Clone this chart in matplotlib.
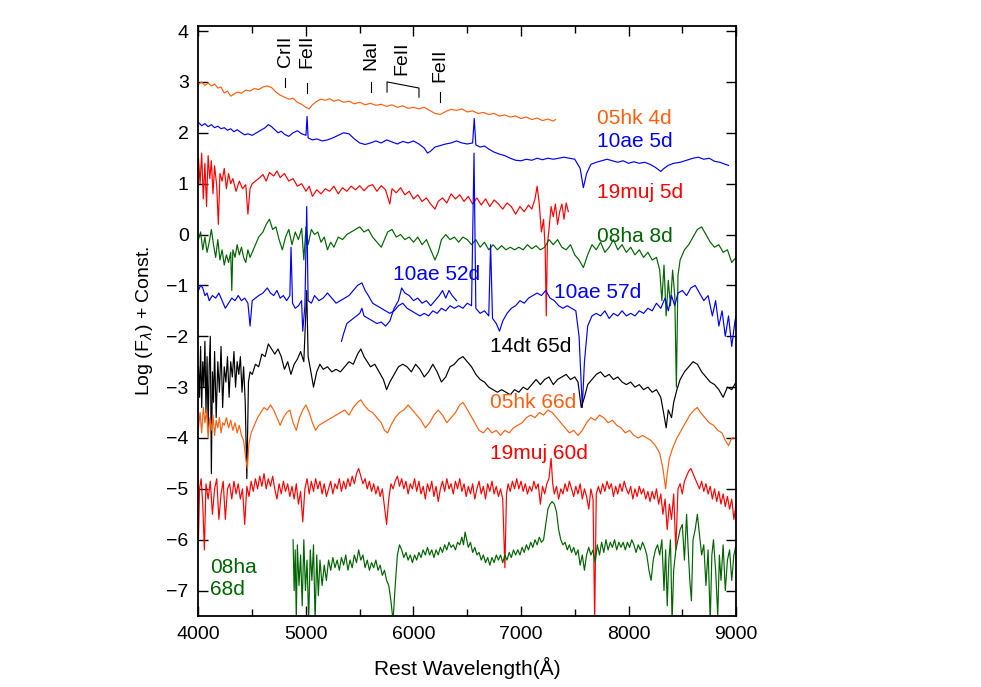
import numpy as np
import matplotlib
matplotlib.use('Agg')
import matplotlib.pyplot as plt

plt.rcParams['font.family'] = ['Liberation Sans', 'DejaVu Sans']
plt.rcParams['mathtext.fontset'] = 'custom'
plt.rcParams['mathtext.rm'] = 'Liberation Sans'

# Spectra: (rest wavelength [A], log flux + const)
sp_05hk_4d = np.array([
    (4000, 2.95), (4030, 3.0), (4060, 2.93), (4090, 2.98), (4120, 2.92), (4150, 2.96), (4180, 2.88),
    (4210, 2.9), (4240, 2.78), (4270, 2.82), (4300, 2.72), (4330, 2.76), (4360, 2.8), (4400, 2.78),
    (4440, 2.84), (4480, 2.82), (4520, 2.87), (4560, 2.85), (4600, 2.9), (4640, 2.92), (4680, 2.89),
    (4720, 2.8), (4760, 2.74), (4800, 2.7), (4840, 2.66), (4880, 2.68), (4920, 2.6), (4960, 2.56),
    (5000, 2.5), (5030, 2.47), (5060, 2.55), (5100, 2.62), (5140, 2.66), (5180, 2.64), (5220, 2.67),
    (5260, 2.62), (5300, 2.65), (5350, 2.6), (5400, 2.62), (5450, 2.57), (5500, 2.6), (5550, 2.55),
    (5600, 2.58), (5650, 2.54), (5700, 2.56), (5750, 2.52), (5800, 2.55), (5850, 2.5), (5900, 2.53),
    (5950, 2.48), (6000, 2.5), (6050, 2.47), (6100, 2.5), (6150, 2.44), (6200, 2.38), (6250, 2.36),
    (6300, 2.42), (6350, 2.46), (6400, 2.44), (6450, 2.47), (6500, 2.41), (6550, 2.43), (6600, 2.38),
    (6650, 2.4), (6700, 2.36), (6750, 2.38), (6800, 2.33), (6850, 2.35), (6900, 2.31), (6950, 2.33),
    (7000, 2.28), (7050, 2.31), (7100, 2.26), (7150, 2.29), (7200, 2.24), (7250, 2.27), (7300, 2.23),
    (7320, 2.26)])

sp_10ae_5d = np.array([
    (4000, 2.2), (4030, 2.14), (4060, 2.18), (4090, 2.12), (4120, 2.16), (4150, 2.1), (4180, 2.13),
    (4210, 2.08), (4240, 2.1), (4270, 2.05), (4300, 2.08), (4330, 2.02), (4360, 2.06), (4400, 2.0),
    (4430, 1.96), (4460, 1.98), (4500, 1.95), (4540, 2.0), (4580, 2.05), (4620, 2.1), (4650, 2.16),
    (4680, 2.12), (4710, 2.06), (4740, 2.0), (4770, 2.03), (4800, 1.97), (4840, 1.93), (4880, 2.0),
    (4920, 2.04), (4960, 1.98), (5000, 1.95), (5010, 2.32), (5020, 1.9), (5060, 1.86), (5100, 1.88),
    (5150, 1.84), (5200, 1.86), (5250, 1.9), (5300, 1.95), (5350, 2.0), (5400, 1.98), (5450, 1.88),
    (5500, 1.8), (5550, 1.77), (5600, 1.8), (5650, 1.84), (5700, 1.8), (5750, 1.86), (5800, 1.82),
    (5850, 1.78), (5900, 1.83), (5950, 1.8), (6000, 1.84), (6050, 1.78), (6100, 1.7), (6130, 1.6),
    (6160, 1.64), (6200, 1.72), (6250, 1.75), (6300, 1.78), (6350, 1.8), (6400, 1.84), (6450, 1.8),
    (6500, 1.78), (6550, 1.8), (6565, 2.28), (6580, 1.76), (6620, 1.72), (6660, 1.74), (6700, 1.68),
    (6750, 1.62), (6800, 1.58), (6850, 1.55), (6900, 1.5), (6950, 1.46), (7000, 1.45), (7050, 1.48),
    (7100, 1.46), (7150, 1.5), (7200, 1.47), (7250, 1.5), (7300, 1.48), (7350, 1.5), (7400, 1.52),
    (7450, 1.5), (7500, 1.48), (7550, 1.3), (7580, 0.92), (7610, 1.2), (7650, 1.38), (7700, 1.42),
    (7750, 1.45), (7800, 1.48), (7850, 1.45), (7900, 1.42), (7950, 1.45), (8000, 1.4), (8050, 1.43),
    (8100, 1.4), (8150, 1.42), (8200, 1.38), (8250, 1.32), (8300, 1.24), (8330, 1.3), (8370, 1.36),
    (8420, 1.4), (8480, 1.42), (8540, 1.46), (8600, 1.5), (8650, 1.52), (8700, 1.48), (8750, 1.5),
    (8800, 1.44), (8850, 1.42), (8900, 1.38), (8930, 1.36)])

sp_19muj_5d = np.array([
    (4000, 1.5), (4015, 1.0), (4030, 1.6), (4045, 0.7), (4060, 1.4), (4075, 0.55), (4090, 1.55),
    (4105, 1.1), (4120, 1.45), (4135, 0.8), (4150, 1.35), (4170, 0.95), (4185, 0.2), (4200, 1.2),
    (4220, 1.05), (4240, 1.3), (4260, 0.9), (4280, 1.2), (4300, 1.0), (4320, 1.1), (4350, 0.85),
    (4380, 1.05), (4410, 0.9), (4440, 0.98), (4460, 0.4), (4480, 0.9), (4500, 1.0), (4530, 1.05),
    (4560, 1.1), (4600, 1.18), (4630, 1.05), (4660, 1.22), (4700, 1.15), (4730, 1.25), (4760, 1.12),
    (4800, 1.2), (4840, 1.05), (4880, 1.1), (4920, 0.95), (4960, 1.0), (5000, 0.85), (5030, 0.95),
    (5060, 0.75), (5100, 0.88), (5140, 0.8), (5180, 0.9), (5220, 0.85), (5260, 0.95), (5300, 0.8),
    (5340, 0.92), (5380, 0.85), (5420, 0.95), (5460, 0.88), (5500, 0.96), (5540, 0.86), (5580, 0.95),
    (5620, 0.98), (5660, 0.85), (5700, 0.96), (5740, 0.88), (5780, 0.6), (5800, 0.9), (5840, 0.82),
    (5880, 0.92), (5920, 0.78), (5960, 0.85), (6000, 0.7), (6040, 0.78), (6080, 0.65), (6120, 0.72),
    (6160, 0.6), (6200, 0.5), (6230, 0.65), (6270, 0.72), (6310, 0.62), (6350, 0.8), (6390, 0.7),
    (6430, 0.78), (6470, 0.65), (6510, 0.75), (6550, 0.6), (6590, 0.72), (6630, 0.58), (6670, 0.7),
    (6710, 0.55), (6750, 0.68), (6790, 0.6), (6830, 0.5), (6870, 0.62), (6910, 0.55), (6950, 0.4),
    (6990, 0.55), (7030, 0.45), (7070, 0.58), (7100, 0.5), (7130, 0.7), (7150, 0.95), (7170, 0.6),
    (7190, 0.05), (7210, 0.3), (7225, -0.3), (7235, -1.6), (7245, -0.2), (7260, 0.1), (7280, 0.55),
    (7300, 0.35), (7320, 0.6), (7340, 0.2), (7360, 0.45), (7380, 0.6), (7400, 0.3), (7420, 0.62),
    (7440, 0.45)])

sp_08ha_8d = np.array([
    (4000, -0.1), (4020, 0.05), (4040, -0.3), (4060, -0.05), (4080, -0.35), (4100, -0.15), (4120, 0.1),
    (4140, -0.2), (4160, -0.45), (4180, -0.1), (4200, -0.5), (4220, -0.3), (4240, -0.6), (4260, -0.4),
    (4280, -0.55), (4300, -0.35), (4310, -1.1), (4320, -0.3), (4340, -0.45), (4360, -0.2), (4380, -0.4),
    (4400, -0.25), (4420, -0.45), (4440, -0.55), (4460, -0.3), (4480, -0.45), (4500, -0.35), (4530, -0.2),
    (4560, -0.05), (4600, 0.05), (4630, 0.2), (4660, 0.3), (4690, 0.1), (4720, 0.15), (4750, -0.1),
    (4780, -0.3), (4810, -0.05), (4840, 0.1), (4870, -0.2), (4900, 0.05), (4930, -0.1), (4960, 0.12),
    (4980, -0.5), (5000, 0.15), (5020, -0.2), (5050, 0.1), (5080, 0.0), (5110, 0.05), (5140, -0.15),
    (5170, -0.05), (5200, -0.3), (5230, -0.15), (5260, -0.25), (5300, -0.05), (5340, -0.1), (5380, 0.0),
    (5420, 0.05), (5460, 0.1), (5500, 0.15), (5540, 0.05), (5580, 0.1), (5620, -0.05), (5660, -0.15),
    (5700, -0.25), (5730, -0.1), (5760, 0.05), (5800, 0.1), (5840, -0.05), (5880, 0.0), (5920, -0.1),
    (5960, -0.05), (6000, -0.15), (6040, -0.05), (6080, -0.2), (6120, -0.1), (6160, -0.3), (6200, -0.5),
    (6230, -0.35), (6260, -0.1), (6300, 0.0), (6340, -0.1), (6380, -0.05), (6420, -0.15), (6460, -0.05),
    (6500, -0.1), (6540, -0.2), (6580, -0.1), (6620, -0.25), (6660, -0.15), (6700, -0.3), (6740, -0.2),
    (6780, -0.3), (6820, -0.22), (6860, -0.3), (6900, -0.25), (6940, -0.3), (6980, -0.25), (7020, -0.3),
    (7060, -0.2), (7100, -0.28), (7140, -0.22), (7180, -0.3), (7220, -0.25), (7260, -0.1), (7300, -0.2),
    (7340, -0.1), (7380, -0.25), (7420, -0.3), (7460, -0.2), (7500, -0.4), (7540, -0.5), (7580, -0.65),
    (7620, -0.4), (7660, -0.2), (7700, -0.3), (7740, -0.15), (7780, -0.35), (7820, -0.25), (7860, -0.1),
    (7900, -0.3), (7940, -0.2), (7980, -0.35), (8020, -0.25), (8060, -0.4), (8100, -0.3), (8140, -0.45),
    (8180, -0.35), (8220, -0.5), (8260, -0.45), (8290, -0.7), (8310, -1.3), (8330, -0.6), (8350, -1.6),
    (8370, -0.9), (8390, -1.4), (8410, -0.7), (8430, -1.2), (8445, -3.0), (8460, -0.8), (8480, -0.5),
    (8520, -0.3), (8560, -0.2), (8600, -0.05), (8640, 0.1), (8680, 0.15), (8720, 0.0), (8760, -0.15),
    (8800, -0.25), (8840, -0.2), (8880, -0.35), (8920, -0.3), (8960, -0.55), (9000, -0.45)])

sp_10ae_57d = np.array([
    (4000, -1.1), (4020, -1.0), (4040, -1.05), (4060, -1.2), (4080, -1.15), (4100, -1.3), (4130, -1.2),
    (4160, -1.25), (4190, -1.15), (4220, -1.3), (4250, -1.45), (4280, -1.35), (4310, -1.25), (4340, -1.3),
    (4370, -1.2), (4400, -1.3), (4430, -1.25), (4460, -1.35), (4480, -1.8), (4500, -1.3), (4530, -1.25),
    (4560, -1.2), (4600, -1.15), (4640, -1.05), (4670, -1.15), (4700, -1.2), (4730, -1.1), (4760, -1.25),
    (4790, -1.2), (4820, -1.3), (4850, -1.2), (4861, -0.25), (4875, -1.35), (4900, -1.45), (4930, -1.4),
    (4959, -1.3), (4970, -1.9), (4990, -1.4), (5007, 0.55), (5020, -1.3), (5050, -1.35), (5080, -1.2),
    (5120, -1.3), (5160, -1.25), (5200, -1.15), (5240, -1.25), (5280, -1.35), (5320, -1.3), (5360, -1.25),
    (5400, -1.2), (5440, -1.1), (5480, -1.0), (5520, -0.95), (5550, -1.1), (5580, -1.2), (5620, -1.35),
    (5660, -1.4), (5700, -1.45), (5740, -1.5), (5780, -1.55), (5820, -1.5), (5860, -1.4), (5900, -1.35),
    (5940, -1.45), (5980, -1.5), (6020, -1.55), (6060, -1.6), (6100, -1.55), (6140, -1.6), (6180, -1.5),
    (6220, -1.55), (6260, -1.45), (6300, -1.5), (6340, -1.4), (6380, -1.45), (6420, -1.4), (6460, -1.45),
    (6500, -1.35), (6540, -1.4), (6563, 1.6), (6580, -1.45), (6620, -1.55), (6660, -1.5), (6700, -1.6),
    (6717, -0.2), (6735, -1.65), (6770, -1.75), (6800, -1.9), (6830, -1.7), (6870, -1.55), (6910, -1.45),
    (6950, -1.4), (6990, -1.3), (7030, -1.35), (7070, -1.25), (7110, -1.2), (7150, -1.15), (7190, -1.2),
    (7230, -1.1), (7270, -1.25), (7310, -1.3), (7350, -1.4), (7390, -1.45), (7430, -1.4), (7470, -1.45),
    (7510, -1.5), (7540, -2.0), (7570, -3.4), (7590, -2.5), (7620, -1.8), (7660, -1.6), (7700, -1.55),
    (7740, -1.6), (7780, -1.5), (7820, -1.65), (7860, -1.55), (7900, -1.6), (7940, -1.5), (7980, -1.6),
    (8020, -1.55), (8060, -1.6), (8100, -1.5), (8140, -1.55), (8180, -1.45), (8220, -1.5), (8260, -1.35),
    (8300, -1.45), (8340, -1.25), (8370, -1.5), (8400, -1.2), (8430, -1.4), (8460, -1.15), (8500, -1.1),
    (8540, -1.2), (8580, -1.05), (8620, -1.0), (8660, -1.15), (8700, -1.3), (8740, -1.2), (8780, -1.6),
    (8810, -1.3), (8840, -1.8), (8870, -1.5), (8900, -2.0), (8930, -1.6), (8960, -2.2), (8990, -1.7),
    (9000, -1.6)])

sp_10ae_52d = np.array([
    (5330, -2.1), (5350, -1.95), (5380, -1.75), (5410, -1.7), (5440, -1.65), (5470, -1.6), (5500, -1.55),
    (5520, -1.45), (5540, -1.6), (5580, -1.65), (5620, -1.7), (5660, -1.75), (5700, -1.72), (5740, -1.8),
    (5780, -1.7), (5820, -1.45), (5860, -1.3), (5890, -1.05), (5920, -1.15), (5960, -1.2), (6000, -1.3),
    (6040, -1.25), (6080, -1.35), (6120, -1.3), (6160, -1.4), (6200, -1.3), (6240, -1.2), (6270, -1.1),
    (6300, -1.25), (6330, -1.1), (6360, -1.2), (6400, -1.3)])

sp_14dt_65d = np.array([
    (4000, -2.6), (4010, -3.2), (4020, -2.2), (4030, -3.4), (4040, -2.5), (4050, -3.0), (4060, -2.1),
    (4070, -3.5), (4080, -2.4), (4090, -3.8), (4100, -2.6), (4110, -2.0), (4120, -4.7), (4130, -2.7),
    (4140, -3.3), (4150, -2.3), (4165, -3.6), (4180, -2.5), (4195, -3.1), (4210, -2.2), (4225, -3.4),
    (4240, -2.6), (4255, -2.9), (4270, -2.4), (4285, -3.2), (4300, -2.5), (4315, -2.8), (4330, -2.3),
    (4345, -3.0), (4360, -2.5), (4375, -2.75), (4390, -2.4), (4405, -3.1), (4420, -2.6), (4435, -3.3),
    (4450, -4.8), (4465, -2.9), (4480, -2.7), (4500, -2.75), (4530, -2.55), (4560, -2.6), (4590, -2.35),
    (4620, -2.4), (4650, -2.15), (4680, -2.25), (4710, -2.35), (4740, -2.25), (4770, -2.4), (4800, -2.65),
    (4830, -2.5), (4860, -2.75), (4890, -2.55), (4920, -2.45), (4950, -2.3), (4980, -2.5), (5007, -1.1),
    (5020, -2.4), (5050, -2.75), (5070, -3.0), (5100, -2.7), (5130, -2.55), (5160, -2.65), (5200, -2.6),
    (5240, -2.7), (5280, -2.65), (5320, -2.7), (5360, -2.6), (5400, -2.5), (5440, -2.55), (5480, -2.35),
    (5510, -2.25), (5540, -2.4), (5570, -2.5), (5600, -2.6), (5640, -2.55), (5680, -2.7), (5720, -2.85),
    (5750, -3.05), (5780, -2.9), (5820, -2.75), (5860, -2.6), (5900, -2.55), (5940, -2.6), (5980, -2.7),
    (6020, -2.55), (6060, -2.65), (6100, -2.8), (6140, -2.7), (6180, -2.55), (6220, -2.7), (6260, -2.9),
    (6300, -2.8), (6340, -2.6), (6380, -2.55), (6420, -2.45), (6460, -2.4), (6500, -2.5), (6540, -2.6),
    (6580, -2.75), (6620, -2.85), (6660, -2.9), (6700, -3.0), (6740, -3.05), (6780, -3.1), (6820, -3.05),
    (6860, -3.1), (6900, -3.15), (6940, -3.05), (6980, -3.1), (7020, -3.0), (7060, -3.05), (7100, -2.95),
    (7140, -2.85), (7180, -2.95), (7220, -2.85), (7260, -2.8), (7300, -2.95), (7340, -2.85), (7380, -2.8),
    (7420, -2.75), (7460, -2.85), (7500, -2.8), (7530, -2.9), (7560, -3.4), (7590, -3.2), (7620, -2.95),
    (7660, -2.85), (7700, -2.75), (7740, -2.7), (7780, -2.8), (7820, -2.75), (7860, -2.85), (7900, -2.8),
    (7940, -2.9), (7980, -2.95), (8020, -2.9), (8060, -3.0), (8100, -2.95), (8140, -3.05), (8180, -3.0),
    (8220, -3.1), (8260, -3.05), (8300, -3.2), (8330, -3.55), (8350, -3.8), (8370, -3.45), (8400, -3.6),
    (8420, -3.3), (8450, -3.05), (8480, -2.85), (8520, -2.7), (8560, -2.6), (8600, -2.5), (8640, -2.55),
    (8680, -2.7), (8720, -2.8), (8760, -2.9), (8800, -2.95), (8840, -3.05), (8880, -3.2), (8920, -3.0),
    (8960, -3.05), (9000, -2.9)])

sp_05hk_66d = np.array([
    (4000, -3.8), (4015, -3.5), (4030, -3.9), (4045, -3.4), (4060, -3.7), (4075, -3.45), (4090, -4.0),
    (4105, -3.6), (4120, -3.85), (4135, -3.55), (4150, -3.95), (4165, -3.65), (4180, -3.8), (4195, -3.6),
    (4210, -3.9), (4225, -3.7), (4240, -3.75), (4260, -3.6), (4280, -3.8), (4300, -3.65), (4320, -3.85),
    (4340, -3.7), (4360, -3.9), (4380, -3.75), (4400, -3.95), (4420, -4.05), (4440, -4.4), (4455, -4.6),
    (4470, -4.1), (4490, -3.9), (4520, -3.75), (4550, -3.6), (4580, -3.5), (4610, -3.4), (4640, -3.45),
    (4670, -3.35), (4700, -3.45), (4730, -3.6), (4760, -3.75), (4790, -3.6), (4820, -3.5), (4850, -3.45),
    (4880, -3.7), (4910, -3.85), (4940, -3.6), (4970, -3.45), (5000, -3.35), (5030, -3.5), (5060, -3.7),
    (5090, -3.85), (5120, -3.75), (5160, -3.7), (5200, -3.65), (5240, -3.6), (5280, -3.55), (5320, -3.5),
    (5360, -3.45), (5400, -3.55), (5440, -3.4), (5480, -3.3), (5510, -3.25), (5540, -3.35), (5580, -3.45),
    (5620, -3.5), (5660, -3.6), (5700, -3.7), (5730, -3.85), (5760, -3.9), (5790, -3.75), (5830, -3.6),
    (5870, -3.5), (5910, -3.45), (5950, -3.35), (5990, -3.45), (6030, -3.55), (6070, -3.65), (6110, -3.8),
    (6150, -3.7), (6190, -3.55), (6230, -3.45), (6270, -3.55), (6310, -3.7), (6350, -3.6), (6390, -3.5),
    (6430, -3.35), (6460, -3.3), (6490, -3.4), (6530, -3.55), (6570, -3.7), (6610, -3.85), (6650, -3.9),
    (6690, -3.8), (6730, -3.9), (6770, -3.85), (6810, -3.95), (6850, -3.85), (6890, -3.9), (6930, -3.8),
    (6970, -3.75), (7010, -3.7), (7050, -3.6), (7090, -3.55), (7130, -3.6), (7170, -3.5), (7210, -3.55),
    (7250, -3.45), (7290, -3.5), (7330, -3.6), (7370, -3.7), (7410, -3.8), (7450, -3.9), (7490, -3.85),
    (7530, -3.95), (7570, -3.85), (7610, -3.7), (7650, -3.6), (7690, -3.65), (7730, -3.55), (7770, -3.6),
    (7810, -3.7), (7850, -3.65), (7890, -3.75), (7930, -3.8), (7970, -3.9), (8010, -3.85), (8050, -3.95),
    (8090, -4.0), (8130, -3.95), (8170, -4.0), (8210, -4.05), (8250, -4.15), (8290, -4.3), (8320, -4.6),
    (8345, -5.0), (8360, -4.7), (8380, -4.4), (8410, -4.2), (8450, -4.0), (8490, -3.85), (8530, -3.7),
    (8570, -3.55), (8610, -3.45), (8640, -3.4), (8670, -3.5), (8710, -3.6), (8750, -3.7), (8790, -3.75),
    (8830, -3.85), (8870, -3.9), (8900, -4.05), (8930, -4.15), (8960, -4.0), (9000, -4.0)])

sp_19muj_60d = np.array([
    (4000, -6.0), (4010, -5.0), (4025, -4.8), (4040, -5.3), (4055, -6.2), (4070, -4.9), (4090, -5.2),
    (4110, -4.85), (4130, -5.5), (4150, -5.0), (4170, -4.8), (4190, -5.6), (4210, -5.1), (4230, -4.85),
    (4250, -5.6), (4270, -5.0), (4290, -4.9), (4310, -5.2), (4330, -4.85), (4350, -5.1), (4370, -4.9),
    (4390, -5.2), (4410, -5.0), (4430, -5.7), (4450, -4.95), (4470, -5.15), (4490, -4.85), (4510, -5.05),
    (4530, -4.8), (4550, -5.0), (4570, -4.75), (4590, -4.95), (4610, -4.7), (4630, -5.0), (4650, -4.8),
    (4670, -4.95), (4690, -4.75), (4710, -5.0), (4730, -5.2), (4750, -4.9), (4770, -5.1), (4790, -4.85),
    (4810, -5.05), (4830, -4.9), (4850, -5.15), (4870, -4.95), (4890, -5.2), (4910, -4.9), (4930, -5.3),
    (4950, -5.05), (4970, -5.65), (4990, -5.0), (5010, -4.8), (5030, -5.1), (5050, -4.85), (5070, -5.05),
    (5090, -4.8), (5110, -5.0), (5130, -4.85), (5150, -5.1), (5170, -4.9), (5190, -5.15), (5210, -5.0),
    (5230, -4.85), (5250, -5.1), (5270, -4.9), (5290, -5.0), (5310, -4.8), (5330, -5.05), (5350, -4.85),
    (5370, -5.0), (5390, -4.8), (5410, -4.95), (5430, -4.75), (5450, -4.9), (5470, -4.7), (5490, -4.6),
    (5510, -4.75), (5530, -4.9), (5550, -4.8), (5570, -5.0), (5590, -4.85), (5610, -5.05), (5630, -4.9),
    (5650, -5.1), (5670, -4.95), (5690, -5.15), (5710, -5.0), (5730, -5.35), (5750, -5.7), (5770, -5.2),
    (5790, -4.9), (5810, -5.0), (5830, -4.85), (5850, -4.75), (5870, -4.95), (5890, -4.8), (5910, -5.0),
    (5930, -4.85), (5950, -5.1), (5970, -4.9), (5990, -5.0), (6010, -4.8), (6030, -5.05), (6050, -4.85),
    (6070, -5.1), (6090, -4.95), (6110, -5.2), (6130, -4.9), (6150, -5.05), (6170, -4.85), (6190, -5.15),
    (6210, -4.95), (6230, -5.25), (6250, -5.0), (6270, -4.85), (6290, -5.05), (6310, -4.8), (6330, -5.0),
    (6350, -4.9), (6370, -5.1), (6390, -4.85), (6410, -5.0), (6430, -4.8), (6450, -5.05), (6470, -4.9),
    (6490, -5.15), (6510, -4.95), (6530, -5.1), (6550, -4.9), (6570, -5.2), (6590, -5.0), (6610, -4.85),
    (6630, -5.1), (6650, -4.95), (6670, -5.2), (6690, -4.9), (6710, -5.05), (6730, -4.85), (6750, -5.1),
    (6770, -4.95), (6790, -5.15), (6810, -5.0), (6830, -5.2), (6850, -6.55), (6865, -5.1), (6880, -4.9),
    (6900, -5.05), (6920, -4.85), (6940, -5.0), (6960, -4.8), (6980, -5.0), (7000, -4.85), (7020, -5.05),
    (7040, -4.9), (7060, -5.1), (7080, -4.95), (7100, -5.05), (7120, -4.85), (7140, -5.0), (7160, -4.9),
    (7180, -5.3), (7200, -4.95), (7220, -5.1), (7240, -4.9), (7260, -4.8), (7280, -4.4), (7295, -4.9),
    (7310, -5.1), (7330, -4.95), (7350, -5.2), (7370, -5.0), (7390, -5.1), (7410, -4.9), (7430, -5.05),
    (7450, -4.85), (7470, -5.0), (7490, -5.15), (7510, -4.95), (7530, -5.1), (7550, -4.9), (7570, -5.2),
    (7590, -5.0), (7610, -5.15), (7630, -5.4), (7650, -5.0), (7670, -5.2), (7685, -7.6), (7700, -5.1),
    (7720, -4.95), (7740, -5.1), (7760, -4.9), (7780, -5.05), (7800, -4.85), (7820, -5.0), (7840, -4.9),
    (7860, -5.15), (7880, -4.95), (7900, -5.1), (7920, -4.9), (7940, -5.05), (7960, -4.85), (7980, -5.0),
    (8000, -5.1), (8020, -4.95), (8040, -5.2), (8060, -5.0), (8080, -5.15), (8100, -4.95), (8120, -5.1),
    (8140, -5.0), (8160, -5.2), (8180, -5.05), (8200, -5.25), (8220, -5.05), (8240, -5.2), (8260, -5.0),
    (8280, -5.3), (8300, -5.1), (8320, -5.5), (8340, -5.2), (8360, -5.8), (8380, -5.3), (8400, -5.6),
    (8420, -5.1), (8440, -6.2), (8460, -5.0), (8480, -4.9), (8500, -5.1), (8520, -4.85), (8540, -4.75),
    (8560, -4.65), (8580, -4.6), (8600, -4.7), (8620, -4.8), (8640, -4.9), (8660, -5.0), (8680, -4.85),
    (8700, -5.05), (8720, -4.9), (8740, -5.1), (8760, -4.95), (8780, -5.2), (8800, -5.0), (8820, -5.25),
    (8840, -5.05), (8860, -5.3), (8880, -5.1), (8900, -5.35), (8920, -5.15), (8940, -5.4), (8960, -5.2),
    (8980, -5.6), (9000, -5.3)])

sp_08ha_68d = np.array([
    (4880, -6.0), (4890, -7.0), (4900, -6.2), (4910, -7.6), (4920, -6.1), (4935, -6.9), (4950, -6.3),
    (4965, -7.3), (4980, -6.0), (4995, -7.0), (5010, -6.4), (5025, -7.6), (5040, -6.2), (5055, -6.8),
    (5070, -6.1), (5085, -7.6), (5100, -6.3), (5115, -7.1), (5130, -6.4), (5150, -6.9), (5170, -6.5),
    (5190, -6.8), (5210, -6.4), (5230, -6.6), (5250, -6.35), (5270, -6.55), (5290, -6.4), (5310, -6.6),
    (5330, -6.35), (5350, -6.5), (5370, -6.3), (5390, -6.6), (5410, -6.4), (5430, -6.55), (5450, -6.3),
    (5470, -6.45), (5490, -6.2), (5510, -6.4), (5530, -6.3), (5550, -6.55), (5570, -6.4), (5590, -6.6),
    (5610, -6.45), (5630, -6.55), (5650, -6.4), (5670, -6.6), (5690, -6.5), (5710, -6.7), (5730, -6.6),
    (5750, -6.8), (5770, -6.9), (5790, -7.2), (5810, -7.6), (5830, -6.9), (5850, -6.3), (5870, -6.1),
    (5890, -6.2), (5910, -6.35), (5930, -6.25), (5950, -6.4), (5970, -6.3), (5990, -6.45), (6010, -6.3),
    (6030, -6.4), (6050, -6.25), (6070, -6.35), (6090, -6.2), (6110, -6.3), (6130, -6.15), (6150, -6.3),
    (6170, -6.2), (6190, -6.35), (6210, -6.2), (6230, -6.3), (6250, -6.15), (6270, -6.25), (6290, -6.1),
    (6310, -6.2), (6330, -6.05), (6350, -6.15), (6370, -6.1), (6390, -6.2), (6410, -6.05), (6430, -6.1),
    (6450, -5.95), (6465, -6.1), (6480, -5.85), (6495, -6.0), (6510, -6.15), (6530, -6.05), (6550, -6.25),
    (6570, -6.15), (6590, -6.3), (6610, -6.25), (6630, -6.4), (6650, -6.3), (6670, -6.45), (6690, -6.35),
    (6710, -6.5), (6730, -6.35), (6750, -6.45), (6770, -6.3), (6790, -6.4), (6810, -6.3), (6830, -6.45),
    (6850, -6.3), (6870, -6.4), (6890, -6.25), (6910, -6.35), (6930, -6.2), (6950, -6.3), (6970, -6.2),
    (6990, -6.3), (7010, -6.15), (7030, -6.25), (7050, -6.1), (7070, -6.2), (7090, -6.05), (7110, -6.15),
    (7130, -6.0), (7150, -6.1), (7170, -5.95), (7190, -6.05), (7210, -6.0), (7230, -5.7), (7250, -5.4),
    (7270, -5.3), (7290, -5.25), (7310, -5.3), (7330, -5.45), (7350, -5.8), (7370, -6.0), (7390, -6.1),
    (7410, -6.05), (7430, -6.2), (7450, -6.1), (7470, -6.25), (7490, -6.15), (7510, -6.3), (7530, -6.2),
    (7550, -6.5), (7570, -6.3), (7590, -6.6), (7610, -6.3), (7630, -6.15), (7650, -6.3), (7670, -6.2),
    (7690, -6.45), (7710, -6.1), (7730, -6.3), (7750, -6.05), (7770, -6.25), (7790, -6.0), (7810, -6.2),
    (7830, -6.05), (7850, -6.15), (7870, -6.0), (7890, -6.2), (7910, -6.05), (7930, -6.15), (7950, -6.05),
    (7970, -6.2), (7990, -6.05), (8010, -6.15), (8030, -6.0), (8050, -6.1), (8070, -6.25), (8090, -6.1),
    (8110, -6.2), (8130, -6.05), (8150, -6.15), (8170, -6.3), (8190, -6.6), (8210, -6.8), (8230, -6.4),
    (8250, -6.2), (8270, -6.1), (8290, -6.3), (8310, -6.0), (8330, -7.0), (8345, -6.2), (8360, -7.3),
    (8375, -6.4), (8390, -6.0), (8405, -7.6), (8420, -6.6), (8440, -6.2), (8460, -6.0), (8480, -5.8),
    (8500, -5.7), (8520, -6.4), (8540, -5.5), (8555, -6.2), (8570, -6.8), (8585, -7.2), (8600, -6.0),
    (8620, -5.8), (8640, -5.5), (8660, -5.9), (8680, -6.3), (8700, -6.1), (8720, -6.9), (8740, -6.2),
    (8760, -7.6), (8775, -6.3), (8790, -6.0), (8810, -6.6), (8830, -7.5), (8845, -6.3), (8860, -6.8),
    (8880, -6.1), (8900, -7.0), (8920, -6.4), (8940, -6.2), (8960, -6.8), (8980, -6.3), (9000, -6.1)])

# order of drawing, colour, label text and label anchor (wavelength, y)
spectra = [sp_05hk_4d, sp_10ae_5d, sp_19muj_5d, sp_08ha_8d, sp_10ae_57d, sp_10ae_52d,
           sp_14dt_65d, sp_05hk_66d, sp_19muj_60d, sp_08ha_68d]
colors = ['#ff6010', '#0000ff', '#ff0000', '#006400', '#0000ff', '#0000ff',
          '#000000', '#ff6010', '#ff0000', '#006400']
labels = ['05hk 4d', '10ae 5d', '19muj 5d', '08ha 8d', '10ae 57d', '10ae 52d',
          '14dt 65d', '05hk 66d', '19muj 60d', '08ha\n68d']
label_wl = [7707, 7707, 7707, 7707, 7307, 5809, 6711, 6711, 6711, 4107]
label_y = [2.29, 1.82, 0.82, -0.03, -1.13, -0.79, -2.21, -3.31, -4.31, -6.77]

# line identifications at the top
line_ids = ['CrII', 'FeII', 'NaI', 'FeII', 'FeII']
line_wl = [4805, 5010, 5605, 5893, 6246]
line_text_y = [3.29, 3.27, 3.23, 3.14, 3.0]

fig = plt.figure(figsize=(9.81, 6.87), dpi=100)
ax = fig.add_axes([0.2023, 0.1033, 0.548, 0.8589])

for sp, c in zip(spectra, colors):
    ax.plot(sp[:, 0], sp[:, 1], color=c, lw=0.85)

for lab, c, lx, ly in zip(labels, colors, label_wl, label_y):
    ax.text(lx, ly, lab, color=c, fontsize=15, ha='left', va='center', linespacing=1.2)

for name, lx, ly in zip(line_ids, line_wl, line_text_y):
    ax.text(lx, ly, name, rotation=90, ha='center', va='bottom', fontsize=14)

# small marker ticks below the IDs
ax.plot([4805, 4805], [2.90, 3.08], color='k', lw=0.8)
ax.plot([5010, 5010], [2.78, 2.98], color='k', lw=0.8)
ax.plot([5605, 5605], [2.80, 3.00], color='k', lw=0.8)
ax.plot([5754, 5754, 6051, 6051], [2.80, 3.00, 2.88, 2.70], color='k', lw=0.8)
ax.plot([6246, 6246], [2.60, 2.80], color='k', lw=0.8)

ax.set_xlim(4000, 9000)
ax.set_ylim(-7.5, 4.1)
ax.set_xticks(np.arange(4000, 9001, 1000))
ax.set_xticks(np.arange(4500, 9000, 1000), minor=True)
ax.set_yticks(np.arange(-7, 5, 1))
ax.tick_params(which='both', direction='in', top=True, right=True, labelsize=14)
ax.tick_params(which='major', length=7, width=1, pad=7)
ax.tick_params(which='minor', length=5, width=1)
for s in ax.spines.values():
    s.set_linewidth(1.3)

ax.set_xlabel('Rest Wavelength(Å)', fontsize=15, labelpad=10)
ax.set_ylabel(r'Log (F$_{\lambda}$) + Const.', fontsize=14, labelpad=8)

fig.savefig('out.png', dpi=100)
